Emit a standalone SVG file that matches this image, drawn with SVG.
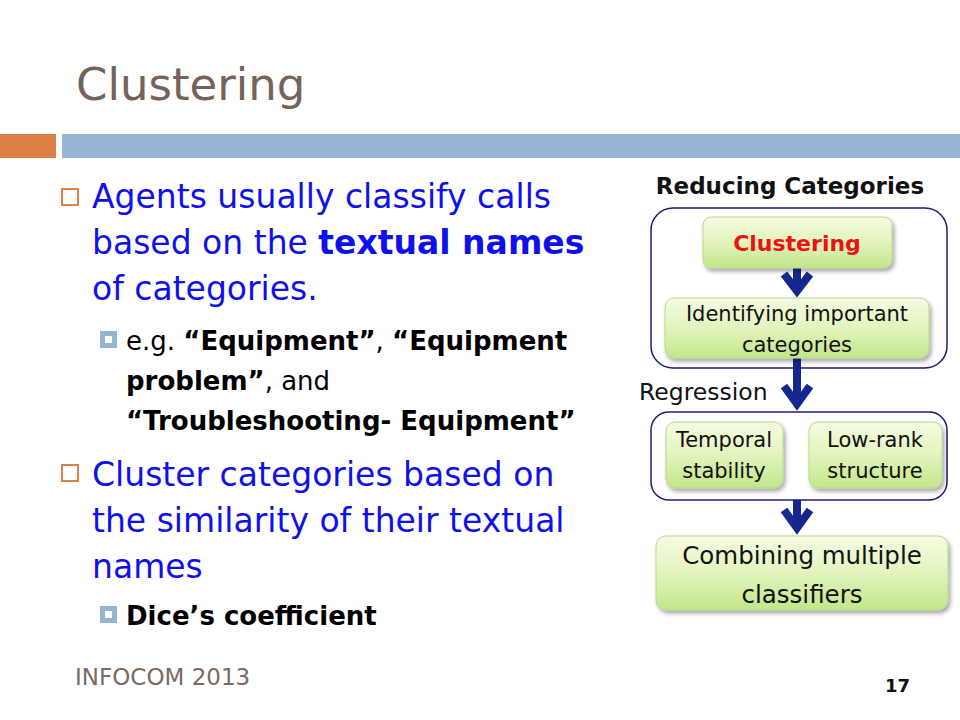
<svg xmlns="http://www.w3.org/2000/svg" width="960" height="720" viewBox="0 0 960 720">
<defs>
<linearGradient id="gr" x1="0" y1="0" x2="0" y2="1">
<stop offset="0" stop-color="#f5fbe2"/>
<stop offset="0.5" stop-color="#e2f4bd"/>
<stop offset="1" stop-color="#c2e68a"/>
</linearGradient>
<filter id="sh" x="-10%" y="-10%" width="130%" height="140%">
<feDropShadow dx="2" dy="3" stdDeviation="2" flood-color="#000" flood-opacity="0.35"/>
</filter>
</defs>
<style>
text{font-family:"DejaVu Sans","Liberation Sans",sans-serif}
.title{font-size:45px;fill:#75625b}
.b1{font-size:33px;fill:#1010ee}
.b2{font-size:26px;fill:#000}
.bd{font-weight:bold}
.box{fill:url(#gr);stroke:#b5d88c;stroke-width:1;filter:url(#sh)}
.grp{fill:none;stroke:#1c1c7c;stroke-width:1.5}
.bt{font-size:21px;fill:#111;text-anchor:middle}
.arr{fill:none;stroke:#15278f;stroke-width:8}
.sq1{fill:none;stroke:#dd8047;stroke-width:2}
.sq2{fill:#fff;stroke:#94b6d2;stroke-width:5}
</style>
<rect width="960" height="720" fill="#fff"/>
<text class="title" x="76" y="100">Clustering</text>
<rect x="0" y="134" width="56" height="24" fill="#dd8047"/>
<rect x="62" y="134" width="898" height="24" fill="#94b6d2"/>

<g id="bullets">
<rect class="sq1" x="62" y="189" width="16" height="16"/>
<text class="b1" x="92" y="208">Agents usually classify calls</text>
<text class="b1" x="92" y="254">based on the <tspan class="bd">textual names</tspan></text>
<text class="b1" x="92" y="300">of categories.</text>
<rect class="sq2" x="102.5" y="333.5" width="12" height="12"/>
<text class="b2" x="126" y="350">e.g. <tspan class="bd">“Equipment”</tspan>, <tspan class="bd">“Equipment</tspan></text>
<text class="b2" x="126" y="390"><tspan class="bd">problem”</tspan>, and</text>
<text class="b2 bd" x="126" y="430">“Troubleshooting- Equipment”</text>
<rect class="sq1" x="62" y="465" width="16" height="16"/>
<text class="b1" x="92" y="486">Cluster categories based on</text>
<text class="b1" x="92" y="532">the similarity of their textual</text>
<text class="b1" x="92" y="578">names</text>
<rect class="sq2" x="102.5" y="608.5" width="12" height="12"/>
<text class="b2 bd" x="126" y="625">Dice’s coefficient</text>
</g>

<text x="75" y="685" style="font-size:23px;fill:#7a6a64">INFOCOM 2013</text>
<text x="885" y="692" style="font-size:18px;font-weight:bold;fill:#111">17</text>

<text x="790" y="194" style="font-size:23px;font-weight:bold;fill:#111;text-anchor:middle">Reducing Categories</text>
<text x="639" y="400" style="font-size:23.5px;fill:#111">Regression</text>

<g id="group-reducing"><rect class="grp" x="651" y="208" width="296" height="160" rx="22"/></g>
<g id="group-regression"><rect class="grp" x="651" y="412" width="296" height="88" rx="18"/></g>

<g id="connectors">
<path class="arr" d="M797 268V291M784 274L797 291L810 274"/>
<path class="arr" d="M797 358V404M784 386L797 404L810 386"/>
<path class="arr" d="M797 500V528M784 510L797 528L810 510"/>
</g>

<g id="n-clustering">
<rect class="box" x="703" y="217" width="189" height="51" rx="8"/>
<text x="797" y="251" style="font-size:22px;font-weight:bold;fill:#ee1111;text-anchor:middle">Clustering</text>
</g>
<g id="n-identifying">
<rect class="box" x="665" y="298" width="264" height="60" rx="9"/>
<text class="bt" x="797" y="321">Identifying important</text>
<text class="bt" x="797" y="352">categories</text>
</g>
<g id="n-temporal">
<rect class="box" x="666" y="422" width="117" height="66" rx="9"/>
<text class="bt" x="724" y="447">Temporal</text>
<text class="bt" x="724" y="478">stability</text>
</g>
<g id="n-lowrank">
<rect class="box" x="809" y="422" width="133" height="66" rx="9"/>
<text class="bt" x="875" y="447">Low-rank</text>
<text class="bt" x="875" y="478">structure</text>
</g>
<g id="n-combining">
<rect class="box" x="656" y="536" width="292" height="74" rx="10"/>
<text class="bt" x="802" y="564" style="font-size:24.5px">Combining multiple</text>
<text class="bt" x="802" y="603" style="font-size:24.5px">classifiers</text>
</g>
</svg>
